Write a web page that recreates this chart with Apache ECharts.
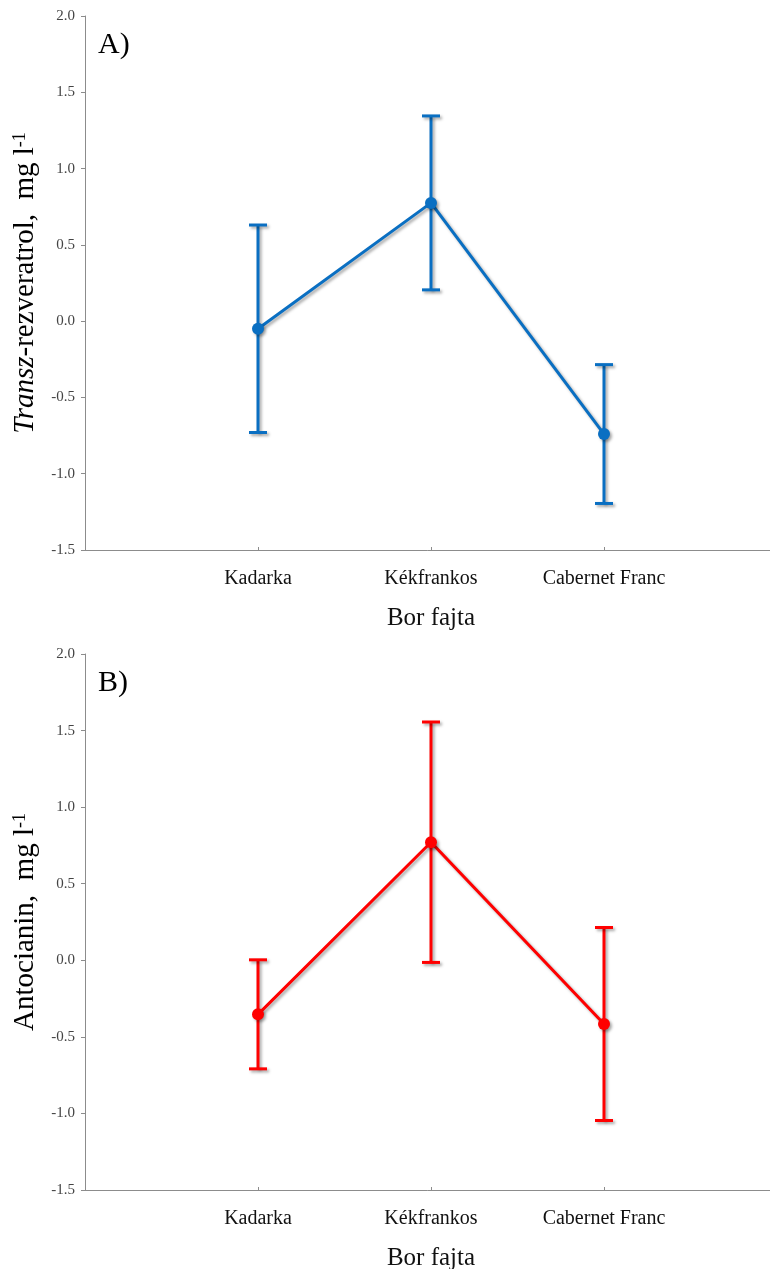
<!DOCTYPE html>
<html>
<head>
<meta charset="utf-8">
<script src="https://cdn.jsdelivr.net/npm/echarts@6/dist/echarts.min.js"></script>
<style>
  html, body { margin: 0; padding: 0; background: #fff; }
  #chart { width: 770px; height: 1269px; }
</style>
</head>
<body>
<div id="chart"></div>
<script>
// Wine varieties on the x axis
const categories = ['Kadarka', 'Kékfrankos', 'Cabernet Franc'];

// Panel A: trans-resveratrol, mean and error half-width
const resveratrolMean = [-0.05, 0.775, -0.74];
const resveratrolErr = [0.68, 0.57, 0.455];

// Panel B: anthocyanin, mean and error half-width
const anthocyaninMean = [-0.353, 0.771, -0.416];
const anthocyaninErr = [0.356, 0.785, 0.63];

// Value axis range shared by both panels
const yMin = -1.5;
const yMax = 2.0;
const yStep = 0.5;

const FONT = 'Liberation Serif';
const BLUE = '#0a6fc2';
const RED = '#ff0000';
const SHADOW = {
  shadowColor: 'rgba(0,0,0,0.35)',
  shadowBlur: 3,
  shadowOffsetX: 2,
  shadowOffsetY: 2
};

const chart = echarts.init(document.getElementById('chart'), null, { renderer: 'canvas' });

function xAxisFor(gridIndex) {
  return {
    type: 'value',
    gridIndex: gridIndex,
    min: 0,
    max: categories.length + 1,
    interval: 1,
    name: 'Bor fajta',
    nameLocation: 'middle',
    nameGap: 56,
    nameTextStyle: { fontFamily: FONT, fontSize: 25, color: '#111' },
    axisLine: { onZero: false, lineStyle: { color: '#8c8c8c', width: 1 } },
    axisTick: { inside: true, length: 3, lineStyle: { color: '#8c8c8c' } },
    splitLine: { show: false },
    axisLabel: {
      fontFamily: FONT,
      fontSize: 20,
      color: '#111',
      margin: 19,
      formatter: function (v) {
        const i = Math.round(v) - 1;
        return i >= 0 && i < categories.length ? categories[i] : '';
      }
    }
  };
}

function yAxisFor(gridIndex, nameRich) {
  return {
    type: 'value',
    gridIndex: gridIndex,
    min: yMin,
    max: yMax,
    interval: yStep,
    name: nameRich,
    nameLocation: 'middle',
    nameGap: 40,
    nameTextStyle: {
      fontFamily: FONT,
      fontSize: 29,
      color: '#000',
      rich: {
        i: { fontFamily: FONT, fontSize: 29, fontStyle: 'italic', color: '#000' },
        n: { fontFamily: FONT, fontSize: 29, color: '#000' },
        s: { fontFamily: FONT, fontSize: 18, color: '#000', verticalAlign: 'top' }
      }
    },
    axisLine: { show: true, onZero: false, lineStyle: { color: '#8c8c8c', width: 1 } },
    axisTick: { show: true, length: 4, lineStyle: { color: '#8c8c8c' } },
    splitLine: { show: false },
    axisLabel: {
      fontFamily: FONT,
      fontSize: 15,
      color: '#444',
      margin: 10,
      formatter: function (v) { return v.toFixed(1); }
    }
  };
}

function errorBarSeries(xAxisIndex, yAxisIndex, means, errs, color) {
  const data = means.map(function (m, i) { return [i + 1, m - errs[i], m + errs[i]]; });
  return {
    type: 'custom',
    xAxisIndex: xAxisIndex,
    yAxisIndex: yAxisIndex,
    z: 2,
    data: data,
    renderItem: function (params, api) {
      const x = api.value(0);
      const lo = api.coord([x, api.value(1)]);
      const hi = api.coord([x, api.value(2)]);
      const half = 9;
      const style = Object.assign({ stroke: color, lineWidth: 3 }, SHADOW);
      return {
        type: 'group',
        children: [
          { type: 'line', shape: { x1: lo[0], y1: lo[1], x2: hi[0], y2: hi[1] }, style: style },
          { type: 'line', shape: { x1: hi[0] - half, y1: hi[1], x2: hi[0] + half, y2: hi[1] }, style: style },
          { type: 'line', shape: { x1: lo[0] - half, y1: lo[1], x2: lo[0] + half, y2: lo[1] }, style: style }
        ]
      };
    }
  };
}

function meanSeries(xAxisIndex, yAxisIndex, means, color) {
  return {
    type: 'line',
    xAxisIndex: xAxisIndex,
    yAxisIndex: yAxisIndex,
    z: 3,
    data: means.map(function (m, i) { return [i + 1, m]; }),
    symbol: 'circle',
    symbolSize: 12,
    lineStyle: Object.assign({ color: color, width: 3 }, SHADOW),
    itemStyle: Object.assign({ color: color }, SHADOW),
    emphasis: { disabled: true }
  };
}

const option = {
  animation: false,
  backgroundColor: '#fff',
  title: [
    { text: 'A)', left: 93, top: 25, textStyle: { fontFamily: FONT, fontSize: 30, fontWeight: 'normal', color: '#000' } },
    { text: 'B)', left: 93, top: 663, textStyle: { fontFamily: FONT, fontSize: 30, fontWeight: 'normal', color: '#000' } }
  ],
  grid: [
    { left: 85, top: 16, width: 692, height: 534, outerBoundsMode: 'none', containLabel: false },
    { left: 85, top: 654, width: 692, height: 536, outerBoundsMode: 'none', containLabel: false }
  ],
  xAxis: [xAxisFor(0), xAxisFor(1)],
  yAxis: [
    yAxisFor(0, '{i|Transz}{n|-rezveratrol,  mg l}{s|-1}'),
    yAxisFor(1, '{n|Antocianin,  mg l}{s|-1}')
  ],
  series: [
    errorBarSeries(0, 0, resveratrolMean, resveratrolErr, BLUE),
    meanSeries(0, 0, resveratrolMean, BLUE),
    errorBarSeries(1, 1, anthocyaninMean, anthocyaninErr, RED),
    meanSeries(1, 1, anthocyaninMean, RED)
  ]
};

chart.setOption(option);
</script>
</body>
</html>
